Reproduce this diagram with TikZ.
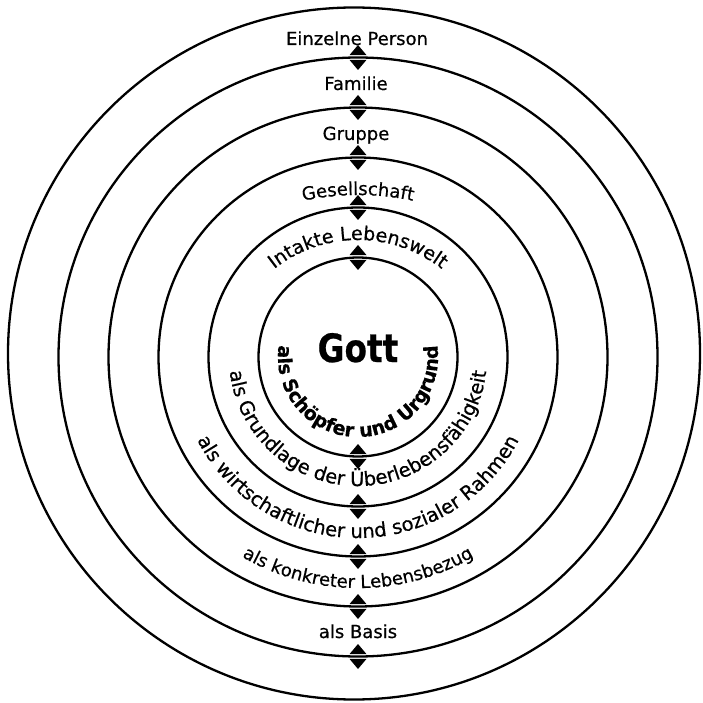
\documentclass[tikz,border=0pt]{standalone}
\usepackage{fontspec}
\setmainfont{DejaVu Sans}[FakeBold=0.6]
\usetikzlibrary{decorations.text,calc}
\begin{document}
\begin{tikzpicture}[x=1pt,y=1pt,
  ring/.style={line width=2.3pt},
  lbl/.style={font=\fontsize{18}{20}\selectfont, inner sep=0pt, anchor=base}]
\useasboundingbox (0,0) rectangle (703,702);
\fill[white] (0,0) rectangle (703,702);
\coordinate (C) at (358,345);
% rings
\draw[ring] (354,348.5) circle[radius=346];
\foreach \rr in {99.5,149.5,199.5,249.5,299.5} \draw[ring] (C) circle[radius=\rr];
% double arrow marks
\foreach \rr in {99.5,149.5,199.5,249.5,299.5}{
  \foreach \sg in {1,-1}{
    \pgfmathsetmacro\yy{345+\sg*\rr}
    \begin{scope}[shift={(358,\yy)}]
      \fill (-8.5,2.4) -- (0,12.5) -- (8.5,2.4) -- cycle;
      \fill (-8.5,-2.4) -- (0,-12.5) -- (8.5,-2.4) -- cycle;
    \end{scope}
  }
}
% straight labels
\node[lbl] (einzel) at (357,657) {Einzelne Person};
\node[lbl] (familie) at (356,612) {Familie};
\node[lbl] (gruppe) at (356,562) {Gruppe};
\node[lbl] (basis) at (358,64) {als Basis};
\node[font=\fontsize{39}{40}\selectfont\bfseries, inner sep=0pt, anchor=base] (gott) at (358,340) {\scalebox{0.84}[1]{Gott}};
% curved labels (top)
\path[decorate, decoration={text along path, text align=center,
  text={|\fontsize{18}{20}\selectfont|Gesellschaft}}]
  ($(358,247)+(115:260)$) arc[start angle=115, end angle=65, radius=260];
\path[decorate, decoration={text along path, text align=center,
  text={|\fontsize{19}{20}\selectfont|Intakte Lebenswelt}}]
  ($(358,327)+(155:135)$) arc[start angle=155, end angle=25, radius=135];
% curved labels (bottom)
\path[decorate, decoration={text along path, text align=center,
  text={|\fontsize{19.5}{20}\selectfont|als Grundlage der Überlebensfähigkeit}}]
  ($(C)+(165:129)$) arc[start angle=165, end angle=375, radius=129];
\path[decorate, decoration={text along path, text align=center,
  text={|\fontsize{19.5}{20}\selectfont|als wirtschaftlicher und sozialer Rahmen}}]
  ($(C)+(180:181)$) arc[start angle=180, end angle=360, radius=181];
\path[decorate, decoration={text along path, text align=center,
  text={|\fontsize{18}{20}\selectfont|als konkreter Lebensbezug}}]
  ($(C)+(200:231)$) arc[start angle=200, end angle=340, radius=231];
\path[decorate, decoration={text along path, text align=center,
  text={|\fontsize{19}{20}\selectfont\bfseries|als Schöpfer und Urgrund}}]
  ($(C)+(150:80)$) arc[start angle=150, end angle=390, radius=80];
\end{tikzpicture}
\end{document}
